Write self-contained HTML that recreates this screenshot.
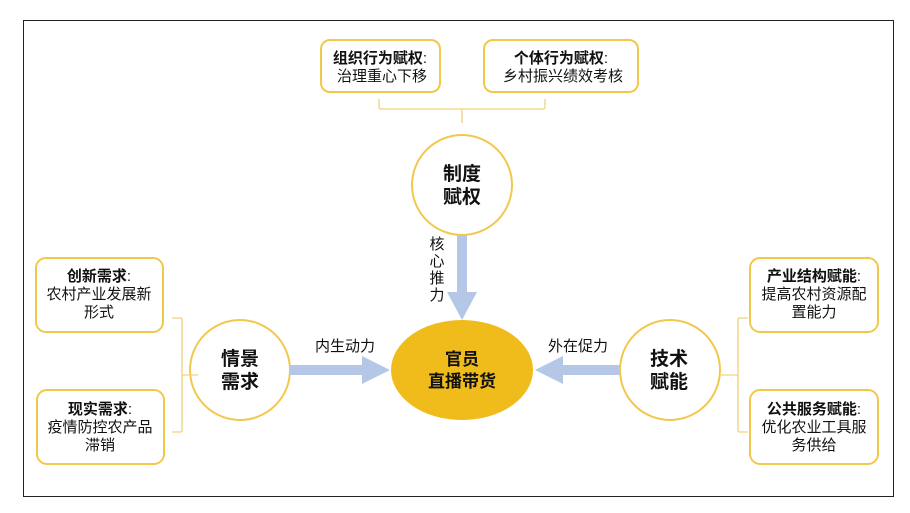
<!DOCTYPE html>
<html><head><meta charset="utf-8"><style>
html,body{margin:0;padding:0;background:#fff}
svg{display:block}
text{font-family:"Liberation Sans","Noto Sans CJK SC",sans-serif;fill:#111}
.b{font-weight:bold}
</style></head><body>
<svg width="910" height="513" viewBox="0 0 910 513">
<rect x="23.5" y="20.5" width="870" height="476" fill="#fff" stroke="#222" stroke-width="1"/>
<g fill="#fff" stroke="#F2C84B" stroke-width="2">
<rect x="321" y="40" width="119" height="52" rx="9"/>
<rect x="484" y="40" width="154" height="52" rx="9"/>
<rect x="36" y="258" width="127" height="74" rx="10"/>
<rect x="37" y="390" width="127" height="74" rx="10"/>
<rect x="750" y="258" width="128" height="74" rx="10"/>
<rect x="750" y="390" width="128" height="74" rx="10"/>
<circle cx="462" cy="185" r="50"/>
<circle cx="240" cy="370" r="50"/>
<circle cx="670" cy="370" r="50"/>
</g>
<g fill="none" stroke="#F2D27A" stroke-width="1.3">
<path d="M379 99 V107 Q379 109 381 109 H543 Q545 109 545 107 V99 M462 109 V123"/>
<path d="M172 318 H180 Q182 318 182 320 V430 Q182 432 180 432 H172 M182 375 H198"/>
<path d="M748 318 H740 Q738 318 738 320 V430 Q738 432 740 432 H748 M738 375 H721"/>
</g>
<g fill="#B4C7E7">
<path d="M457 235 H467 V292 H477 L462 320 L447 292 H457Z"/>
<path d="M290 365 H362 V356 L390 370 L362 384 V375 H290Z"/>
<path d="M620 365 H563 V356 L535 370 L563 384 V375 H620Z"/>
</g>
<ellipse cx="462" cy="370" rx="71" ry="50" fill="#F0BC1C"/>
<g font-size="15" text-anchor="middle">
<text x="380" y="63" class="b">组织行为赋权<tspan font-weight="normal">:</tspan></text>
<text x="382" y="81">治理重心下移</text>
<text x="561" y="63" class="b">个体行为赋权<tspan font-weight="normal">:</tspan></text>
<text x="563" y="81">乡村振兴绩效考核</text>
<text x="99" y="281" class="b">创新需求<tspan font-weight="normal">:</tspan></text>
<text x="99" y="299">农村产业发展新</text>
<text x="99" y="317">形式</text>
<text x="100" y="414" class="b">现实需求<tspan font-weight="normal">:</tspan></text>
<text x="100" y="432">疫情防控农产品</text>
<text x="100" y="450">滞销</text>
<text x="814" y="281" class="b">产业结构赋能<tspan font-weight="normal">:</tspan></text>
<text x="814" y="299">提高农村资源配</text>
<text x="814" y="317">置能力</text>
<text x="814" y="414" class="b">公共服务赋能<tspan font-weight="normal">:</tspan></text>
<text x="814" y="432">优化农业工具服</text>
<text x="814" y="450">务供给</text>
<text x="345" y="351">内生动力</text>
<text x="578" y="351">外在促力</text>
<text x="437" y="249">核</text>
<text x="437" y="266">心</text>
<text x="437" y="283">推</text>
<text x="437" y="300">力</text>
</g>
<g font-size="19" text-anchor="middle" class="b">
<text x="462" y="180" class="b">制度</text>
<text x="462" y="203" class="b">赋权</text>
<text x="240" y="365" class="b">情景</text>
<text x="240" y="388" class="b">需求</text>
<text x="669" y="365" class="b">技术</text>
<text x="669" y="388" class="b">赋能</text>
</g>
<g font-size="17" text-anchor="middle">
<text x="462" y="365" class="b">官员</text>
<text x="462" y="387" class="b">直播带货</text>
</g>
</svg>
</body></html>
